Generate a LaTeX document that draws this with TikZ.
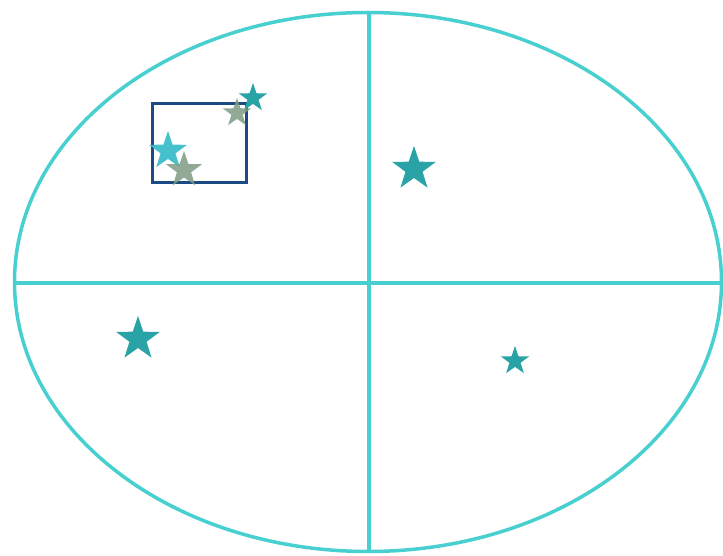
\documentclass[tikz,border=0pt]{standalone}
\usetikzlibrary{shapes.geometric}
\definecolor{ring}{HTML}{48CFD0}
\definecolor{boxc}{HTML}{1B4B82}
\definecolor{teal1}{HTML}{2AA3A6}
\definecolor{cyan1}{HTML}{33B9C9}
\definecolor{grey1}{HTML}{7F9B82}
\tikzset{
  starshape/.style={star, star points=5, star point ratio=2.55, inner sep=0pt, draw=none},
  tealstar/.style={starshape, fill=teal1},
  cyanstar/.style={starshape, fill=cyan1, fill opacity=0.9},
  greystar/.style={starshape, fill=grey1, fill opacity=0.85},
  ringline/.style={ring, line width=3.5pt},
}
\begin{document}
\begin{tikzpicture}[x=1pt,y=-1pt]
\useasboundingbox (0,0) rectangle (723,556);
\node[draw=ring, line width=3.5pt, ellipse, minimum width=707pt, minimum height=539pt, inner sep=0pt] (oval) at (368,282) {};
\coordinate (vt) at (369,12);
\coordinate (vb) at (369,552);
\coordinate (hl) at (14,283);
\coordinate (hr) at (722,283);
\draw[ringline] (vt) -- (vb);
\draw[ringline] (hl) -- (hr);
\node[draw=boxc, line width=3pt, minimum width=94pt, minimum height=79pt, inner sep=0pt] (box) at (199,143.5) {};
\node[tealstar, minimum size=30pt] (s1) at (253,98) {};
\node[greystar, minimum size=30pt] (s2) at (237,113) {};
\node[cyanstar, minimum size=40pt] (s3) at (168,151) {};
\node[greystar, minimum size=38pt] (s4) at (184,170) {};
\node[tealstar, minimum size=46pt] (s5) at (414,169) {};
\node[tealstar, minimum size=46pt] (s6) at (138,339) {};
\node[tealstar, minimum size=30pt] (s7) at (515,361) {};
\end{tikzpicture}
\end{document}
